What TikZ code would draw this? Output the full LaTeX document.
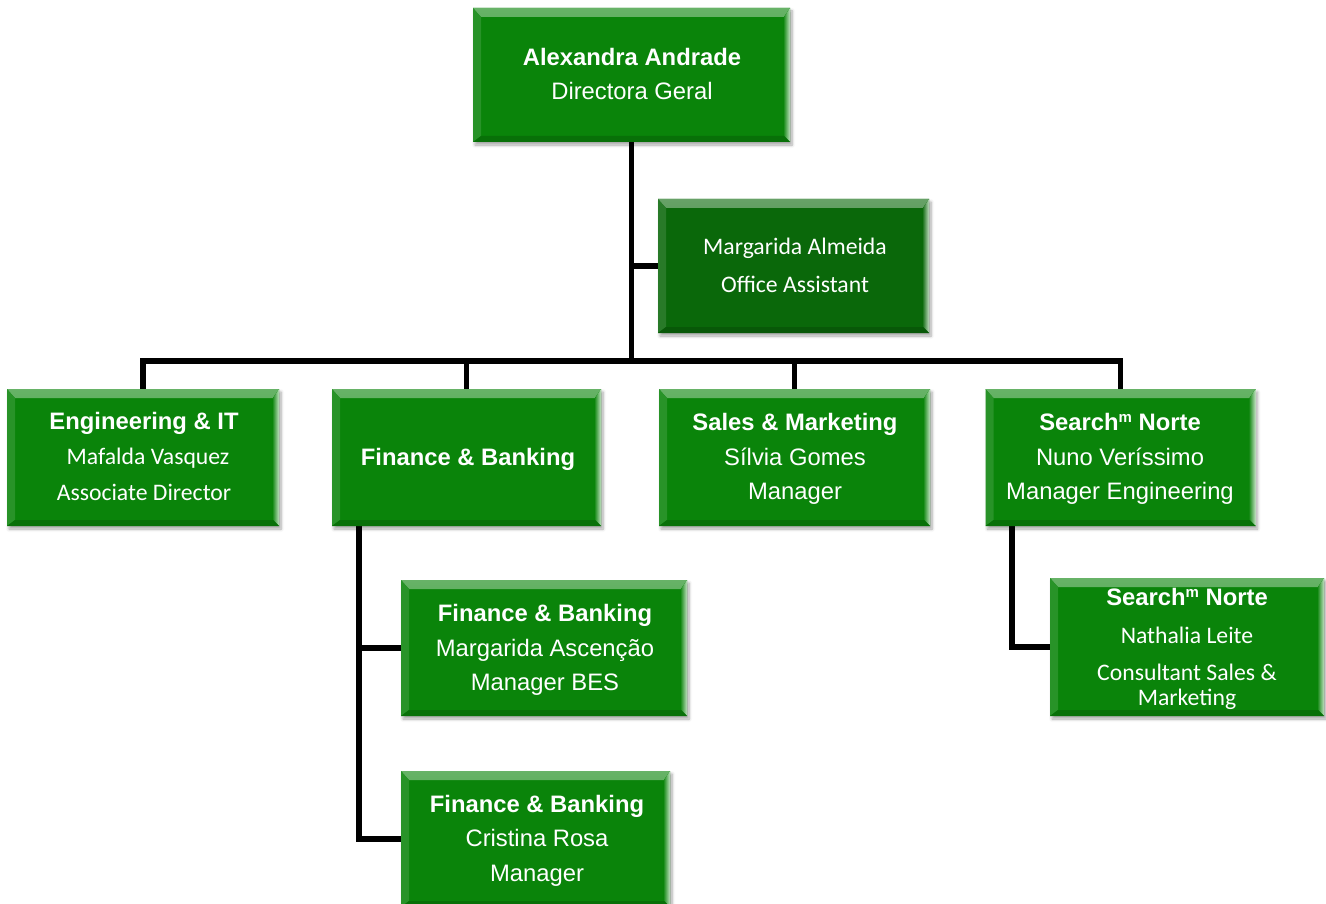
\documentclass[tikz,border=0pt]{standalone}
\usepackage{fontspec}
\newfontfamily\arialf{Liberation Sans}
\newfontfamily\calf{Carlito}
\usetikzlibrary{shadows.blur,backgrounds}
\definecolor{boxgreen}{RGB}{10,132,10}
\definecolor{boxdark}{RGB}{10,104,10}

\begin{document}
\begin{tikzpicture}[x=1pt,y=-1pt,
  conn/.style={draw=black, line width=5.5pt, line join=miter},
  orgbox/.style={draw=none, fill=#1, inner sep=0pt, outer sep=0pt,
    blur shadow={shadow xshift=2pt, shadow yshift=-3pt, shadow opacity=35,
                 shadow blur steps=6, shadow blur radius=3pt},
    path picture={
      % top bevel
      \fill[top color=#1!62!white, bottom color=#1!92!white]
        (path picture bounding box.north west) -- (path picture bounding box.north east)
        -- ([shift={(-6pt,-9pt)}]path picture bounding box.north east)
        -- ([shift={(8pt,-9pt)}]path picture bounding box.north west) -- cycle;
      % left bevel
      \fill[#1!88!white]
        (path picture bounding box.north west)
        -- ([shift={(8pt,-9pt)}]path picture bounding box.north west)
        -- ([shift={(8pt,6pt)}]path picture bounding box.south west)
        -- (path picture bounding box.south west) -- cycle;
      % right bevel
      \fill[left color=#1!90!white, right color=#1!25!white]
        (path picture bounding box.north east) -- (path picture bounding box.south east)
        -- ([shift={(-6pt,6pt)}]path picture bounding box.south east)
        -- ([shift={(-6pt,-9pt)}]path picture bounding box.north east) -- cycle;
      % bottom bevel
      \fill[#1!85!black]
        (path picture bounding box.south west)
        -- ([shift={(8pt,6pt)}]path picture bounding box.south west)
        -- ([shift={(-6pt,6pt)}]path picture bounding box.south east)
        -- (path picture bounding box.south east) -- cycle;
    }},
  hb/.style={font=\arialf\bfseries\fontsize{23.8}{28}\selectfont, text=white, anchor=base, inner sep=0pt},
  hr/.style={font=\arialf\fontsize{23.8}{28}\selectfont, text=white, anchor=base, inner sep=0pt},
  cr/.style={font=\calf\fontsize{23.7}{28}\selectfont, text=white, anchor=base, inner sep=0pt},
]
\useasboundingbox (0,0) rectangle (1326,904);
\newcommand\supm{\raisebox{0.32em}{\fontsize{15}{15}\selectfont m}}

% boxes
\node[orgbox=boxgreen, minimum width=317, minimum height=134] (ceo) at (631.5,75) {};
\node[orgbox=boxdark,  minimum width=271, minimum height=134] (office) at (793.5,266) {};
\node[orgbox=boxgreen, minimum width=272, minimum height=137] (eng) at (143,457.5) {};
\node[orgbox=boxgreen, minimum width=269, minimum height=137] (fin) at (466.5,457.5) {};
\node[orgbox=boxgreen, minimum width=271, minimum height=137] (sales) at (794.5,457.5) {};
\node[orgbox=boxgreen, minimum width=270, minimum height=137] (search) at (1120.5,457.5) {};
\node[orgbox=boxgreen, minimum width=286, minimum height=136] (fb2) at (544,648) {};
\node[orgbox=boxgreen, minimum width=274, minimum height=138] (search2) at (1187,647) {};
\node[orgbox=boxgreen, minimum width=269, minimum height=136] (fb3) at (535.5,839) {};

% junction points of the connector tree
\coordinate (bus) at (631.5,361);
\coordinate (fspine) at (359,526);
\coordinate (sspine) at (1012,526);

% connectors, behind the boxes
\begin{scope}[on background layer]
\draw[conn] (ceo.south) -- (bus);
\draw[conn] (ceo.south |- office.west) -- (office.west);
\draw[conn] (eng.north) |- (bus) -| (search.north);
\draw[conn] (fin.north) -- (fin.north |- bus);
\draw[conn] (sales.north) -- (sales.north |- bus);
\draw[conn] (fspine) |- (fb3.west);
\draw[conn] (fspine |- fb2.west) -- (fb2.west);
\draw[conn] (sspine) |- (search2.west);
\end{scope}

% texts
\node[hb] (ceo-1) at (632,66) {Alexandra Andrade};
\node[hr] (ceo-2) at (632,100) {Directora Geral};

\node[cr] (office-1) at (795,255) {Margarida Almeida};
\node[cr] (office-2) at (795,293) {Office Assistant};

\node[hb] (eng-1) at (144,429) {Engineering \& IT};
\node[cr] (eng-2) at (148,464) {Mafalda Vasquez};
\node[cr] (eng-3) at (144,500) {Associate Director};

\node[hb] (fin-1) at (468,465) {Finance \& Banking};

\node[hb] (sales-1) at (795,430) {Sales \& Marketing};
\node[hr] (sales-2) at (795,465) {Sílvia Gomes};
\node[hr] (sales-3) at (795,499) {Manager};

\node[hb] (search-1) at (1120,430) {Search\supm{} Norte};
\node[hr] (search-2) at (1120,465) {Nuno Veríssimo};
\node[hr] (search-3) at (1120,499) {Manager Engineering};

\node[hb] (fb2-1) at (545,621) {Finance \& Banking};
\node[hr] (fb2-2) at (545,656) {Margarida Ascenção};
\node[hr] (fb2-3) at (545,690) {Manager BES};

\node[hb] (search2-1) at (1187,605) {Search\supm{} Norte};
\node[cr] (search2-2) at (1187,643) {Nathalia Leite};
\node[cr] (search2-3) at (1187,680) {Consultant Sales \&};
\node[cr] (search2-4) at (1187,705) {Marketing};

\node[hb] (fb3-1) at (537,812) {Finance \& Banking};
\node[hr] (fb3-2) at (537,846) {Cristina Rosa};
\node[hr] (fb3-3) at (537,881) {Manager};
\end{tikzpicture}
\end{document}
